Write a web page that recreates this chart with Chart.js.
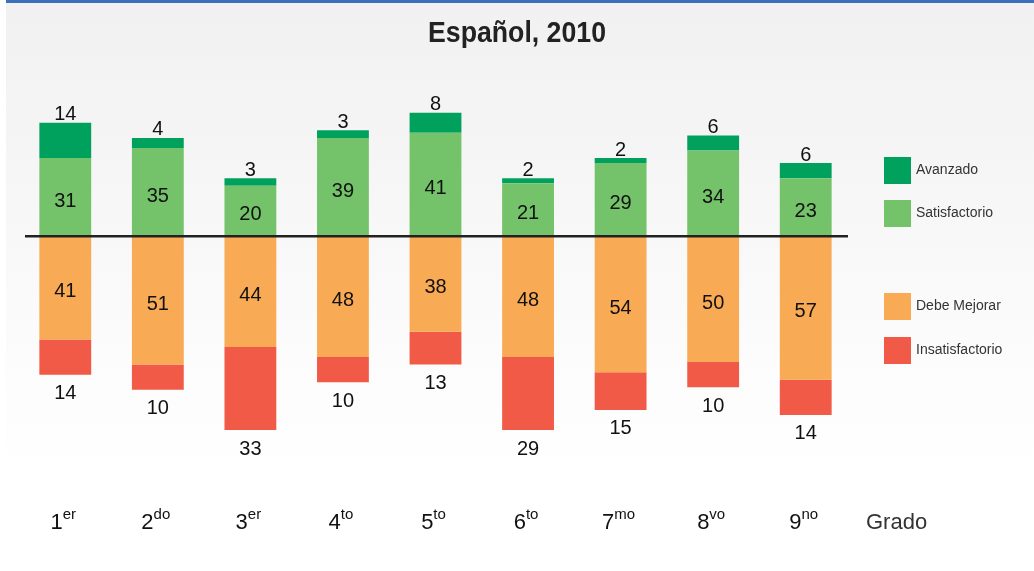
<!DOCTYPE html>
<html>
<head>
<meta charset="utf-8">
<script src="https://cdn.jsdelivr.net/npm/chart.js@4.4.1/dist/chart.umd.min.js"></script>
<style>
  html, body { margin: 0; padding: 0; background: #fff; }
  #wrap {
    position: relative; width: 1034px; height: 571px;
    background: linear-gradient(to bottom, #f1f1f1 0px, #f4f4f4 120px, #fbfbfb 330px, #ffffff 480px);
  }
  #wrap:before {
    content: ""; position: absolute; left: 0; top: 0; width: 6px; height: 571px; background: #fff;
  }
  #topbar { position: absolute; left: 6px; top: 0; width: 1028px; height: 3px; background: #3b71ba; }
</style>
</head>
<body>
<div id="wrap">
  <div id="topbar"></div>
  <canvas id="myChart" width="1034" height="571"></canvas>
</div>
<script>
// datos
let grados = ["1", "2", "3", "4", "5", "6", "7", "8", "9"];
let sufijos = ["er", "do", "er", "to", "to", "to", "mo", "vo", "no"];
let avanzado = [14, 4, 3, 3, 8, 2, 2, 6, 6];
let satisfactorio = [31, 35, 20, 39, 41, 21, 29, 34, 23];
let debeMejorar = [41, 51, 44, 48, 38, 48, 54, 50, 57];
let insatisfactorio = [14, 10, 33, 10, 13, 29, 15, 10, 14];

var colores = {
  avanzado: "#00a15c",
  satisfactorio: "#74c26a",
  debe: "#f9aa55",
  insat: "#f15a46",
};

let fuente = "'Liberation Sans', Arial, sans-serif";

// titulo, linea cero, etiquetas, leyenda
let dibujos = {
  id: "dibujos",
  afterDatasetsDraw(chart) {
    let ctx = chart.ctx;
    let x = chart.scales.x;
    let y = chart.scales.y;
    let y0 = y.getPixelForValue(0);

    ctx.save();
    // titulo (un poco estrecho como el original)
    ctx.fillStyle = "#222";
    ctx.font = "bold 29px 'Liberation Sans Narrow', 'Liberation Sans', Arial";
    ctx.textAlign = "center";
    ctx.textBaseline = "middle";
    ctx.save();
    ctx.translate(517, 34);
    ctx.scale(0.92, 1);
    ctx.fillText("Español, 2010", 0, 0);
    ctx.restore();

    // linea del cero
    ctx.strokeStyle = "#222";
    ctx.lineWidth = 2.5;
    ctx.beginPath();
    ctx.moveTo(25, y0);
    ctx.lineTo(848, y0);
    ctx.stroke();

    // numeros
    ctx.fillStyle = "#111";
    ctx.font = "20px " + fuente;
    ctx.textAlign = "center";
    ctx.textBaseline = "middle";
    for (let i = 0; i < grados.length; i++) {
      let cx = x.getPixelForValue(i);
      let ySat = y.getPixelForValue(satisfactorio[i]);
      let yAv = y.getPixelForValue(satisfactorio[i] + avanzado[i]);
      let yDeb = y.getPixelForValue(-debeMejorar[i]);
      let yIns = y.getPixelForValue(-debeMejorar[i] - insatisfactorio[i]);
      ctx.fillText(String(satisfactorio[i]), cx, (y0 + ySat) / 2 + 4);
      ctx.fillText(String(avanzado[i]), cx, yAv - 8);
      ctx.fillText(String(debeMejorar[i]), cx, (y0 + yDeb) / 2 + 4);
      ctx.fillText(String(insatisfactorio[i]), cx, yIns + 19);
    }

    // etiquetas del eje con superindice
    ctx.textBaseline = "alphabetic";
    ctx.textAlign = "left";
    for (let i = 0; i < grados.length; i++) {
      let cx = x.getPixelForValue(i);
      ctx.font = "22px " + fuente;
      let w1 = ctx.measureText(grados[i]).width;
      ctx.font = "15px " + fuente;
      let w2 = ctx.measureText(sufijos[i]).width;
      let start = cx - (w1 + w2) / 2 - 2;
      ctx.fillStyle = "#111";
      ctx.font = "22px " + fuente;
      ctx.fillText(grados[i], start, 529);
      ctx.font = "15px " + fuente;
      ctx.fillText(sufijos[i], start + w1, 519);
    }
    ctx.fillStyle = "#333";
    ctx.font = "22px " + fuente;
    ctx.fillText("Grado", 866, 529);

    // leyenda
    let items = [
      ["Avanzado", colores.avanzado, 157],
      ["Satisfactorio", colores.satisfactorio, 200],
      ["Debe Mejorar", colores.debe, 293],
      ["Insatisfactorio", colores.insat, 337],
    ];
    ctx.font = "14px " + fuente;
    ctx.textBaseline = "middle";
    items.forEach(function (it) {
      ctx.fillStyle = it[1];
      ctx.fillRect(884, it[2], 27, 27);
      ctx.fillStyle = "#333";
      ctx.fillText(it[0], 916, it[2] + 13.5);
    });
    ctx.restore();
  },
};

new Chart("myChart", {
  type: "bar",
  data: {
    labels: grados,
    datasets: [
      { label: "Satisfactorio", data: satisfactorio, backgroundColor: colores.satisfactorio },
      { label: "Avanzado", data: avanzado, backgroundColor: colores.avanzado },
      { label: "Debe Mejorar", data: debeMejorar.map((v) => -v), backgroundColor: colores.debe },
      { label: "Insatisfactorio", data: insatisfactorio.map((v) => -v), backgroundColor: colores.insat },
    ],
  },
  options: {
    responsive: false,
    animation: false,
    layout: { padding: { left: 19, right: 182, top: 85, bottom: 83 } },
    datasets: { bar: { barPercentage: 0.56, categoryPercentage: 1, borderWidth: 0 } },
    scales: {
      x: { stacked: true, display: false, offset: true },
      y: { stacked: true, display: false, min: -100, max: 60 },
    },
    plugins: {
      legend: { display: false },
      title: { display: false },
      tooltip: { enabled: false },
    },
  },
  plugins: [dibujos],
});
</script>
</body>
</html>
